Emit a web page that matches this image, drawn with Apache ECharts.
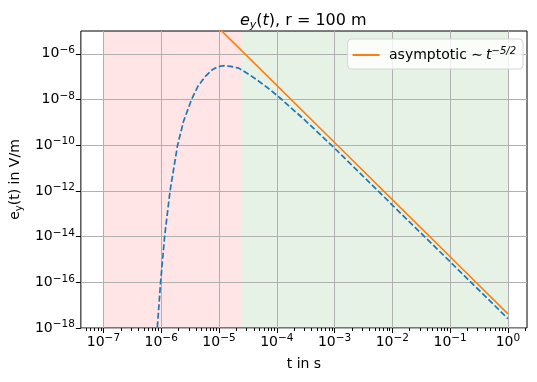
<!DOCTYPE html>
<html><head><meta charset="utf-8">
<script src="https://cdn.jsdelivr.net/npm/echarts@6/dist/echarts.min.js"></script>
<style>html,body{margin:0;padding:0;background:#fff}#c{width:537px;height:382px}</style>
</head><body><div id="c"></div>
<script>
// e_y(t) response (dashed)
const tResp  = [7.4e-7, 8.56e-7, 9.76e-7, 1.145e-6, 1.424e-6, 1.919e-6, 2.436e-6, 3.35e-6, 4.303e-6, 5.731e-6, 7.63e-6, 9.24e-6, 1.136e-5, 1.58e-5, 2.198e-5, 3.16e-5, 4.53e-5, 7.94e-5, 1.236e-4, 3.16e-4, 1e-3, 3.16e-3, 1e-2, 1e-1, 1];
const eyResp = [2.5e-21, 1e-18, 1e-16, 1e-14, 1e-12, 1e-10, 1.12e-9, 1e-8, 3.72e-8, 1e-7, 2.0e-7, 2.63e-7, 3.02e-7, 2.85e-7, 2.37e-7, 1.35e-7, 7.3e-8, 2.51e-8, 9.77e-9, 1.17e-9, 7.4e-11, 4.27e-12, 2.4e-13, 7.9e-16, 2.57e-18];
// asymptotic ~ t^-5/2
const tAsym  = [1e-7, 1e-6, 1e-5, 1e-4, 1e-3, 1e-2, 1e-1, 1];
const eyAsym = [1.32, 4.17e-3, 1.32e-5, 4.17e-8, 1.32e-10, 4.17e-13, 1.32e-15, 4.17e-18];
// shaded regions
const earlyRegion = [1e-7, 2.45e-5];
const lateRegion  = [2.45e-5, 1];
// axes
const xMin = 4.074e-8, xMax = 2.138;
const yMin = 1e-18, yMax = 1e-5;
const xTicks = [1e-7, 1e-6, 1e-5, 1e-4, 1e-3, 1e-2, 1e-1, 1];
const yTicks = [1e-18, 1e-16, 1e-14, 1e-12, 1e-10, 1e-8, 1e-6];
const xMinorTicks = [];
for (let k = -8; k <= 0; k++) for (let m = 2; m <= 9; m++) {
  const v = m * Math.pow(10, k);
  if (v > xMin && v < xMax) xMinorTicks.push(v);
}

const FONT = 'DejaVu Sans';
function powLabel(v) {
  const e = Math.round(Math.log10(v));
  return '{b|10}{sup|' + (e < 0 ? '\u2212' : '') + Math.abs(e) + '}';
}
const labelRich = {
  b: {fontSize: 14, lineHeight: 18, fontFamily: FONT, color: '#000'},
  sup: {fontSize: 10.5, lineHeight: 10, verticalAlign: 'top', fontFamily: FONT, color: '#000'}
};

const chart = echarts.init(document.getElementById('c'), null, {renderer: 'canvas'});
chart.setOption({
  animation: false,
  backgroundColor: '#fff',
  title: {
    text: '{i|e}{sub|y}{n|(}{i|t}{n|), r = 100 m}',
    left: 235, top: 6,
    textStyle: {
      fontWeight: 'normal',
      rich: {
        i: {fontSize: 16, fontStyle: 'italic', fontWeight: 'normal', fontFamily: FONT, color: '#000', lineHeight: 20},
        n: {fontSize: 16, fontWeight: 'normal', fontFamily: FONT, color: '#000', lineHeight: 20},
        sub: {fontSize: 11, fontStyle: 'italic', fontWeight: 'normal', fontFamily: FONT, color: '#000', lineHeight: 10, verticalAlign: 'bottom'}
      }
    }
  },
  legend: {
    right: 14, top: 39,
    data: [{name: 'asymptotic', icon: 'rect', itemStyle: {color: '#ff7f0e'}}],
    itemWidth: 27, itemHeight: 2, itemGap: 0,
    padding: [7, 7, 7, 5],
    backgroundColor: 'rgba(255,255,255,0.8)',
    borderColor: '#d5d5d5', borderWidth: 1, borderRadius: 4,
    formatter: function () { return '{n| asymptotic \u223C}{i|t}{sup|\u22125/2}'; },
    textStyle: {
      rich: {
        n: {fontSize: 14, fontFamily: FONT, color: '#000', lineHeight: 18},
        i: {fontSize: 14, fontStyle: 'italic', fontFamily: FONT, color: '#000', lineHeight: 18, padding: [0, 0, 0, 3]},
        sup: {fontSize: 10, fontStyle: 'italic', fontFamily: FONT, color: '#000', lineHeight: 10, verticalAlign: 'top'}
      }
    }
  },
  grid: {left: 80, right: 10, top: 31, bottom: 54, show: true, borderColor: '#000', borderWidth: 1, backgroundColor: 'transparent'},
  xAxis: [{
    type: 'log', logBase: 10, min: xMin, max: xMax,
    name: 't in s', nameLocation: 'middle', nameGap: 29,
    nameTextStyle: {fontSize: 14, fontFamily: FONT, color: '#000'},
    axisLine: {show: false},
    axisTick: {show: true, customValues: xTicks, length: 5, lineStyle: {color: '#000', width: 1}},
    axisLabel: {customValues: xTicks, formatter: powLabel, margin: 5, rich: labelRich},
    splitLine: {show: true, lineStyle: {color: '#b0b0b0', width: 1}},
    minorTick: {show: false}, minorSplitLine: {show: false}
  }, {
    type: 'log', logBase: 10, min: xMin, max: xMax, position: 'bottom',
    axisLine: {show: false},
    axisTick: {show: true, customValues: xMinorTicks, length: 3, lineStyle: {color: '#000', width: 1}},
    axisLabel: {show: false},
    splitLine: {show: false}
  }],
  yAxis: {
    type: 'log', logBase: 10, min: yMin, max: yMax,
    name: '{n|e}{sub|y}{n|(t) in V/m}', nameLocation: 'middle', nameGap: 47, nameRotate: 90,
    nameTextStyle: {
      rich: {
        n: {fontSize: 14, fontFamily: FONT, color: '#000', lineHeight: 18},
        sub: {fontSize: 10, fontFamily: FONT, color: '#000', lineHeight: 10, verticalAlign: 'bottom'}
      }
    },
    axisLine: {show: false},
    axisTick: {show: true, customValues: yTicks, length: 5, lineStyle: {color: '#000', width: 1}},
    axisLabel: {customValues: yTicks, formatter: powLabel, margin: 6, rich: labelRich},
    splitLine: {show: true, lineStyle: {color: '#b0b0b0', width: 1}}
  },
  series: [{
    type: 'line', name: 'regions', data: [], silent: true,
    markArea: {
      silent: true, z: -1,
      data: [
        [{xAxis: earlyRegion[0], itemStyle: {color: 'rgba(255,0,0,0.1)'}}, {xAxis: earlyRegion[1]}],
        [{xAxis: lateRegion[0], itemStyle: {color: 'rgba(0,128,0,0.1)'}}, {xAxis: lateRegion[1]}]
      ]
    }
  }, {
    type: 'line', name: 'response',
    data: tResp.map((t, i) => [t, eyResp[i]]),
    showSymbol: false, symbol: 'none', smooth: false,
    lineStyle: {color: '#1f77b4', width: 1.7, type: [6, 2.6]},
    clip: true, z: 3
  }, {
    type: 'line', name: 'asymptotic',
    data: tAsym.map((t, i) => [t, eyAsym[i]]),
    showSymbol: false, symbol: 'none',
    lineStyle: {color: '#ff7f0e', width: 1.6},
    itemStyle: {color: '#ff7f0e'},
    clip: true, z: 4
  }]
});
</script></body></html>
